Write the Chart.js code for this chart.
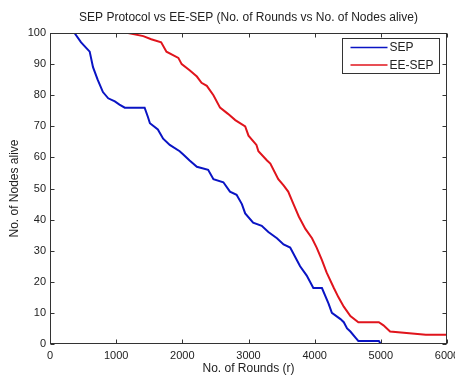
<!DOCTYPE html>
<html>
<head>
<meta charset="utf-8">
<script src="https://cdn.jsdelivr.net/npm/chart.js@4"></script>
<style>
  html, body { margin: 0; padding: 0; background: #fff; }
  canvas { display: block; }
</style>
</head>
<body>
<canvas id="chart" width="455" height="376"></canvas>
<script>
// Données (rounds -> noeuds vivants)
const sepRounds = [0, 370, 470, 600, 650, 720, 800, 880, 980, 1050,
  1130, 1430, 1480, 1510, 1630, 1710, 1810, 1960, 2010, 2110,
  2220, 2390, 2470, 2620, 2720, 2820, 2900, 2950, 3070, 3200,
  3300, 3430, 3530, 3630, 3730, 3780, 3880, 3980, 4110, 4210,
  4260, 4390, 4440, 4490, 4540, 4620, 4660, 4970, 5000, 6000];
const sepAlive = [100, 100, 97, 94, 89, 85, 81, 79, 78, 77,
  76, 76, 73, 71, 69, 66, 64, 62, 61, 59,
  57, 56, 53, 52, 49, 48, 45, 42, 39, 38,
  36, 34, 32, 31, 27, 25, 22, 18, 18, 13,
  10, 8, 7, 5, 4, 2, 1, 1, 0, 0];

const eesepRounds = [0, 1180, 1410, 1530, 1680, 1760, 1940, 1990, 2110, 2220,
  2290, 2370, 2470, 2570, 2690, 2800, 2950, 3000, 3120, 3150,
  3280, 3330, 3450, 3530, 3600, 3680, 3760, 3860, 3960, 4030,
  4110, 4180, 4290, 4360, 4440, 4540, 4660, 4970, 5040, 5140,
  5680, 6000];
const eesepAlive = [100, 100, 99, 98, 97, 94, 92, 90, 88, 86,
  84, 83, 80, 76, 74, 72, 70, 67, 64, 62,
  59, 58, 53, 51, 49, 45, 41, 37, 34, 31,
  27, 23, 18, 15, 12, 9, 7, 7, 6, 4,
  3, 3];

const xTicks = [0, 1000, 2000, 3000, 4000, 5000, 6000];
const yTicks = [0, 10, 20, 30, 40, 50, 60, 70, 80, 90, 100];

const fontFamily = "'Liberation Sans', Arial, sans-serif";
const textColor = "#222";

const toPoints = (xs, ys) => xs.map((x, i) => ({ x: x, y: ys[i] }));

// Cadre façon MATLAB : boîte + graduations vers l'intérieur + légende encadrée
const matlabAxes = {
  id: "matlabAxes",
  afterDatasetsDraw(chart) {
    const { ctx, chartArea: a, scales } = chart;
    const L = Math.round(a.left) + 0.5, R = Math.round(a.right) - 0.5;
    const T = Math.round(a.top) + 0.5, B = Math.round(a.bottom) - 0.5;
    ctx.save();
    ctx.strokeStyle = "#333";
    ctx.lineWidth = 1;
    ctx.strokeRect(L, T, R - L, B - T);
    ctx.beginPath();
    xTicks.forEach(v => {
      const px = Math.round(scales.x.getPixelForValue(v)) + 0.5;
      ctx.moveTo(px, B); ctx.lineTo(px, B - 4);
      ctx.moveTo(px, T); ctx.lineTo(px, T + 4);
    });
    yTicks.forEach(v => {
      const py = Math.round(scales.y.getPixelForValue(v)) + 0.5;
      ctx.moveTo(L, py); ctx.lineTo(L + 4, py);
      ctx.moveTo(R, py); ctx.lineTo(R - 4, py);
    });
    ctx.stroke();

    // légende
    const bx = Math.round(a.right) - 104.5, by = Math.round(a.top) + 5.5;
    const bw = 97, bh = 35;
    ctx.fillStyle = "#fff";
    ctx.fillRect(bx, by, bw, bh);
    ctx.strokeStyle = "#333";
    ctx.strokeRect(bx, by, bw, bh);
    ctx.font = "12px " + fontFamily;
    ctx.textBaseline = "middle";
    ctx.textAlign = "left";
    chart.data.datasets.forEach((ds, i) => {
      const y = by + 9 + i * 17.5;
      ctx.strokeStyle = ds.borderColor;
      ctx.lineWidth = 1.5;
      ctx.beginPath();
      ctx.moveTo(bx + 8, y); ctx.lineTo(bx + 45, y);
      ctx.stroke();
      ctx.fillStyle = textColor;
      ctx.fillText(ds.label, bx + 47, y + 0.5);
    });
    ctx.restore();
  }
};

new Chart(document.getElementById("chart"), {
  type: "line",
  data: {
    datasets: [
      {
        label: "SEP",
        data: toPoints(sepRounds, sepAlive),
        borderColor: "#0a14c4",
        borderWidth: 2,
        pointRadius: 0,
        tension: 0,
        fill: false
      },
      {
        label: "EE-SEP",
        data: toPoints(eesepRounds, eesepAlive),
        borderColor: "#e0141c",
        borderWidth: 2,
        pointRadius: 0,
        tension: 0,
        fill: false
      }
    ]
  },
  options: {
    responsive: false,
    animation: false,
    layout: { padding: { left: 0, right: 8, top: 0, bottom: 0 } },
    plugins: {
      legend: { display: false },
      tooltip: { enabled: false },
      title: {
        display: true,
        fullSize: false,
        text: "SEP Protocol vs EE-SEP (No. of Rounds vs No. of Nodes alive)",
        color: textColor,
        font: { family: fontFamily, size: 12, weight: "normal" },
        padding: { top: 10, bottom: 8.6 }
      }
    },
    scales: {
      x: {
        type: "linear",
        min: 0,
        max: 6000,
        afterBuildTicks: s => { s.ticks = xTicks.map(v => ({ value: v })); },
        ticks: {
          color: textColor,
          font: { family: fontFamily, size: 11 },
          padding: 5,
          maxRotation: 0,
          autoSkip: false,
          callback: v => String(v)
        },
        grid: { display: false, drawTicks: false },
        border: { display: false },
        title: {
          display: true,
          text: "No. of Rounds (r)",
          color: textColor,
          font: { family: fontFamily, size: 12 },
          padding: { top: 0, bottom: 0 }
        },
        afterFit: s => { s.height = 32; s.paddingLeft = 0; s.paddingRight = 0; }
      },
      y: {
        min: 0,
        max: 100,
        afterBuildTicks: s => { s.ticks = yTicks.map(v => ({ value: v })); },
        ticks: {
          color: textColor,
          font: { family: fontFamily, size: 11 },
          padding: 4,
          autoSkip: false,
          callback: v => String(v)
        },
        grid: { display: false, drawTicks: false },
        border: { display: false },
        title: {
          display: true,
          text: "No. of Nodes alive",
          color: textColor,
          font: { family: fontFamily, size: 12 },
          padding: { top: 7, bottom: 0 }
        },
        afterFit: s => { s.width = 50; s.paddingTop = 0; s.paddingBottom = 0; }
      }
    }
  },
  plugins: [matlabAxes]
});
</script>
</body>
</html>
